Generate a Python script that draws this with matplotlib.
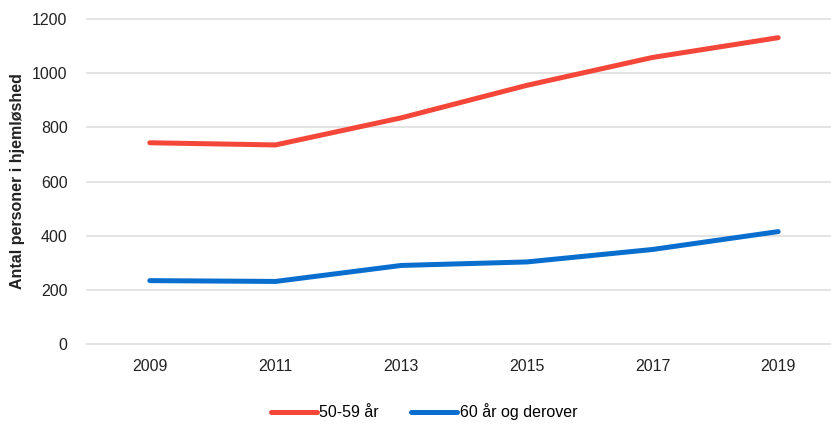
import matplotlib
matplotlib.use("Agg")
import matplotlib.pyplot as plt
from matplotlib.lines import Line2D

plt.rcParams['font.family'] = ['Liberation Sans', 'DejaVu Sans']

years = [2009, 2011, 2013, 2015, 2017, 2019]
age_50_59 = [743, 735, 835, 955, 1058, 1131]
age_60_plus = [234, 231, 290, 303, 349, 415]
labels = ['50-59 år', '60 år og derover']
colors = ['#F4473A', '#0A6ECF']

fig = plt.figure(figsize=(8.31, 4.25), dpi=100)
ax = fig.add_axes([87 / 831, 1 - 344 / 425, 1 - 87 / 831 + 10 / 831, (344 - 19) / 425])

ax.plot(years, age_50_59, color=colors[0], lw=3.6, solid_capstyle='round', zorder=3)
ax.plot(years, age_60_plus, color=colors[1], lw=3.6, solid_capstyle='round', zorder=3)

ax.set_xlim(2008, 2020)
ax.set_ylim(0, 1200)
ax.set_xticks(years)
ax.set_yticks(range(0, 1201, 200))
ax.grid(axis='y', color='#dedede', lw=1.2)
for gl in ax.get_ygridlines():
    gl.set_clip_on(False)
ax.set_axisbelow(True)
for s in ax.spines.values():
    s.set_visible(False)
ax.tick_params(length=0, labelsize=11.5, colors='#222222')
ax.tick_params(axis='y', pad=14)
ax.tick_params(axis='x', pad=11)

fig.text(18 / 831, 1 - 181 / 425, 'Antal personer i hjemløshed', rotation=90,
         ha='center', va='center', fontsize=11.5, fontweight='bold', color='#222222')

handles = [Line2D([], [], color=c, lw=3.6, solid_capstyle='round') for c in colors]
fig.legend(handles, labels, loc='center', bbox_to_anchor=(0.51, 1 - 412 / 425),
           ncol=2, frameon=False, fontsize=11.5, handlelength=2.9,
           handletextpad=0.15, columnspacing=2.0)

fig.savefig('out.png', dpi=100)
